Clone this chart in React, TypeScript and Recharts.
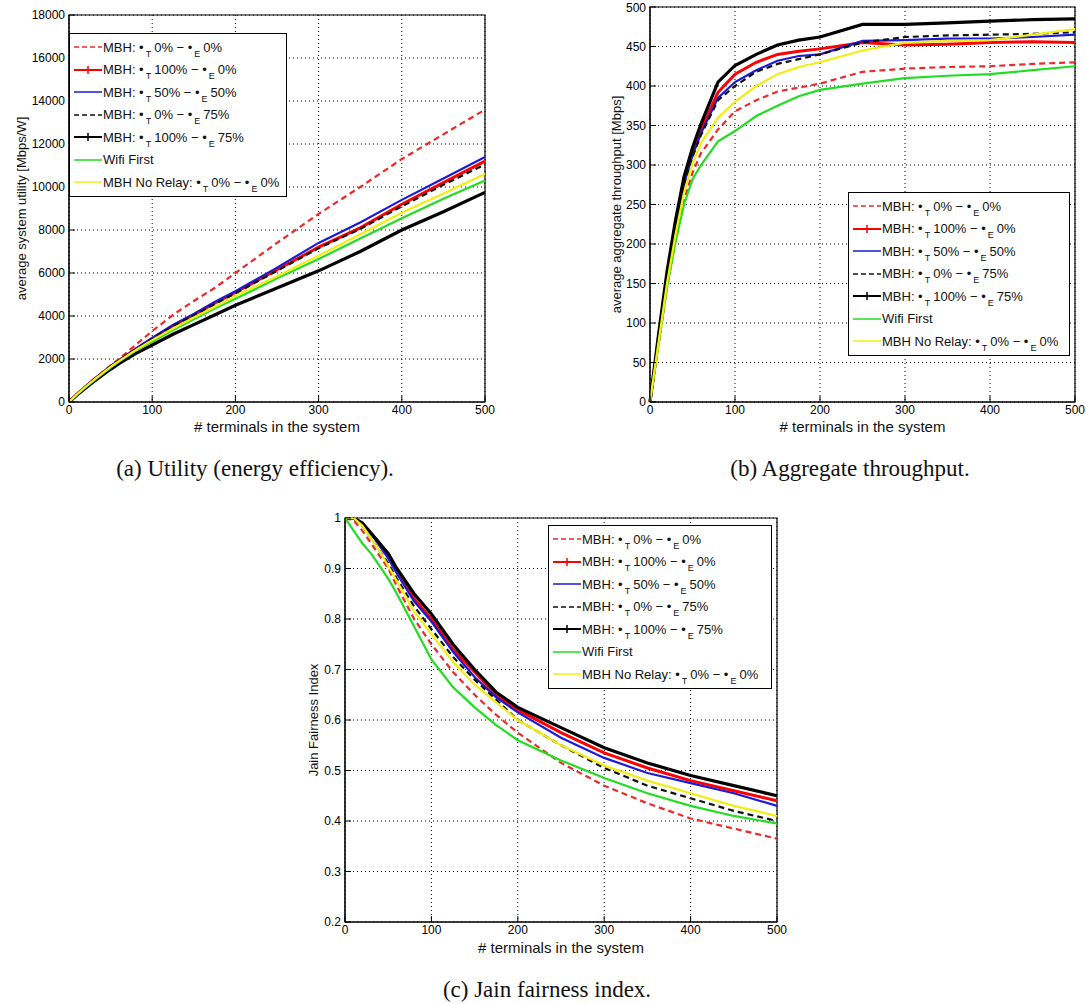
import React from "react";
import {
  CartesianGrid,
  Legend,
  Line,
  LineChart,
  ReferenceArea,
  XAxis,
  YAxis,
} from "recharts";

// x positions shared by all three panels (# terminals)
const TERMINALS = [0, 10, 20, 30, 40, 50, 60, 80, 100, 125, 150, 175, 200, 250, 300, 350, 400, 450, 500];
const X_TICKS = [0, 100, 200, 300, 400, 500];

// (a) average system utility [Mbps/W]
const utilRedDash = [0, 380, 720, 1060, 1380, 1700, 2000, 2650, 3300, 4050, 4700, 5300, 6000, 7400, 8750, 10000, 11300, 12450, 13600];
const utilRedSolid = [0, 380, 720, 1050, 1350, 1650, 1930, 2450, 2950, 3550, 4050, 4600, 5100, 6150, 7200, 8100, 9200, 10200, 11200];
const utilBlue = [0, 380, 720, 1050, 1360, 1660, 1940, 2470, 2980, 3580, 4100, 4650, 5150, 6250, 7400, 8350, 9400, 10400, 11400];
const utilBlackDash = [0, 380, 720, 1050, 1350, 1650, 1920, 2440, 2930, 3520, 4020, 4550, 5050, 6100, 7150, 8050, 9100, 10100, 11050];
const utilBlackSolid = [0, 340, 650, 950, 1240, 1520, 1780, 2250, 2650, 3150, 3600, 4050, 4500, 5300, 6100, 7000, 8000, 8850, 9750];
const utilGreen = [0, 360, 690, 1010, 1310, 1600, 1880, 2380, 2800, 3350, 3850, 4350, 4800, 5750, 6650, 7600, 8550, 9450, 10300];
const utilYellow = [0, 370, 710, 1030, 1330, 1630, 1900, 2410, 2880, 3420, 3930, 4420, 4920, 5850, 6800, 7800, 8800, 9700, 10600];
const UTIL_TICKS = [0, 2000, 4000, 6000, 8000, 10000, 12000, 14000, 16000, 18000];

// (b) average aggregate throughput [Mbps]
const thrBlackSolid = [0, 85, 165, 230, 285, 322, 352, 405, 426, 440, 452, 458, 462, 478, 478, 480, 482, 484, 485];
const thrRedSolid = [0, 80, 158, 222, 278, 315, 345, 392, 415, 430, 440, 444, 447, 455, 452, 453, 455, 456, 455];
const thrBlue = [0, 80, 158, 222, 276, 312, 340, 385, 405, 420, 432, 438, 440, 457, 458, 460, 460, 462, 465];
const thrBlackDash = [0, 80, 158, 220, 274, 310, 338, 382, 400, 418, 428, 434, 440, 455, 462, 464, 465, 466, 468];
const thrYellow = [0, 75, 150, 212, 265, 302, 328, 360, 380, 400, 415, 424, 430, 445, 455, 457, 458, 465, 472];
const thrRedDash = [0, 72, 145, 205, 255, 290, 315, 345, 368, 382, 393, 398, 403, 418, 422, 424, 425, 428, 430];
const thrGreen = [0, 72, 145, 203, 250, 282, 300, 330, 343, 362, 375, 387, 395, 403, 410, 413, 415, 420, 425];
const THR_TICKS = [0, 50, 100, 150, 200, 250, 300, 350, 400, 450, 500];

// (c) Jain fairness index
const jainBlackSolid = [1.0, 1.0, 0.99, 0.97, 0.95, 0.93, 0.9, 0.85, 0.81, 0.75, 0.7, 0.655, 0.625, 0.585, 0.545, 0.515, 0.49, 0.47, 0.45];
const jainRedSolid = [1.0, 1.0, 0.99, 0.97, 0.95, 0.925, 0.895, 0.84, 0.8, 0.74, 0.695, 0.65, 0.62, 0.575, 0.535, 0.505, 0.48, 0.46, 0.44];
const jainBlue = [1.0, 1.0, 0.99, 0.97, 0.945, 0.92, 0.89, 0.835, 0.795, 0.735, 0.685, 0.645, 0.615, 0.565, 0.525, 0.495, 0.475, 0.455, 0.43];
const jainBlackDash = [1.0, 1.0, 0.985, 0.96, 0.935, 0.91, 0.88, 0.825, 0.78, 0.725, 0.68, 0.64, 0.6, 0.55, 0.505, 0.47, 0.445, 0.42, 0.4];
const jainYellow = [1.0, 1.0, 0.985, 0.96, 0.935, 0.905, 0.875, 0.815, 0.77, 0.715, 0.67, 0.635, 0.6, 0.55, 0.51, 0.48, 0.455, 0.43, 0.41];
const jainRedDash = [1.0, 0.995, 0.975, 0.95, 0.925, 0.9, 0.865, 0.8, 0.75, 0.695, 0.65, 0.61, 0.575, 0.515, 0.47, 0.435, 0.405, 0.385, 0.365];
const jainGreen = [1.0, 0.975, 0.95, 0.93, 0.905, 0.88, 0.85, 0.785, 0.72, 0.665, 0.625, 0.59, 0.56, 0.52, 0.485, 0.455, 0.43, 0.41, 0.395];
const JAIN_TICKS = [0.2, 0.3, 0.4, 0.5, 0.6, 0.7, 0.8, 0.9, 1];

type Series = {
  key: string;
  prefix: string;
  rhoT?: string;
  rhoE?: string;
  color: string;
  width: number;
  dash?: string;
  plus?: boolean;
};

const SERIES: Series[] = [
  { key: "redDash", prefix: "MBH", rhoT: "0%", rhoE: "0%", color: "#f02828", width: 2.2, dash: "6 4" },
  { key: "redSolid", prefix: "MBH", rhoT: "100%", rhoE: "0%", color: "#ff0000", width: 3, plus: true },
  { key: "blue", prefix: "MBH", rhoT: "50%", rhoE: "50%", color: "#1a1ad8", width: 2.2 },
  { key: "blackDash", prefix: "MBH", rhoT: "0%", rhoE: "75%", color: "#111", width: 2.2, dash: "6 4" },
  { key: "blackSolid", prefix: "MBH", rhoT: "100%", rhoE: "75%", color: "#000", width: 3.2, plus: true },
  { key: "green", prefix: "Wifi First", color: "#22dd22", width: 2.2 },
  { key: "yellow", prefix: "MBH No Relay", rhoT: "0%", rhoE: "0%", color: "#f2ee10", width: 2.2 },
];

function buildRows(cols: Record<string, number[]>) {
  return TERMINALS.map((t, i) => {
    const row: Record<string, number> = { t };
    Object.keys(cols).forEach((k) => {
      row[k] = cols[k][i];
    });
    return row;
  });
}

const utilData = buildRows({
  redDash: utilRedDash,
  redSolid: utilRedSolid,
  blue: utilBlue,
  blackDash: utilBlackDash,
  blackSolid: utilBlackSolid,
  green: utilGreen,
  yellow: utilYellow,
});
const thrData = buildRows({
  redDash: thrRedDash,
  redSolid: thrRedSolid,
  blue: thrBlue,
  blackDash: thrBlackDash,
  blackSolid: thrBlackSolid,
  green: thrGreen,
  yellow: thrYellow,
});
const jainData = buildRows({
  redDash: jainRedDash,
  redSolid: jainRedSolid,
  blue: jainBlue,
  blackDash: jainBlackDash,
  blackSolid: jainBlackSolid,
  green: jainGreen,
  yellow: jainYellow,
});

const FONT = "'Liberation Sans', Arial, sans-serif";
const tickStyle = { fontSize: 12, fill: "#000", fontFamily: FONT };

const Sub = ({ c }: { c: string }) => (
  <span style={{ fontSize: 9, position: "relative", top: 5, margin: "0 3px 0 2px" }}>{c}</span>
);

function LegendBox({ width }: { width: number }) {
  return (
    <div
      style={{
        width,
        boxSizing: "border-box",
        border: "1.5px solid #000",
        background: "#fff",
        padding: "2px 4px",
        fontFamily: FONT,
        fontSize: 13,
        color: "#111",
      }}
    >
      {SERIES.map((s) => (
        <div key={s.key} style={{ display: "flex", alignItems: "center", height: 22.5, whiteSpace: "nowrap" }}>
          <svg width={28} height={10} style={{ flex: "none" }}>
            <line x1={0} y1={5} x2={28} y2={5} stroke={s.color} strokeWidth={s.width > 2.5 ? 2 : 1.5} strokeDasharray={s.dash ? "5 3" : undefined} />
            {s.plus && <path d="M14 1V9M10 5H18" stroke={s.color} strokeWidth={1.5} />}
          </svg>
          <span style={{ marginLeft: 1 }}>
            {s.prefix}
            {s.rhoT ? (
              <>
                : •<Sub c="T" />{s.rhoT} − •<Sub c="E" />{s.rhoE}
              </>
            ) : null}
          </span>
        </div>
      ))}
    </div>
  );
}

type PanelProps = {
  data: Record<string, number>[];
  width: number;
  height: number;
  margin: { top: number; right: number; bottom: number; left: number };
  yDomain: [number, number];
  yTicks: number[];
  yLabel: string;
  yLabelOffset: number;
  xLabelOffset: number;
  legendLeft: number;
  legendTop: number;
  legendWidth: number;
};

const noTick = () => <g />;

function Panel(p: PanelProps) {
  return (
    <LineChart width={p.width} height={p.height} data={p.data} margin={p.margin}>
      <CartesianGrid stroke="#000" strokeDasharray="1 3" strokeWidth={1} />
      <XAxis
        dataKey="t"
        type="number"
        domain={[0, 500]}
        ticks={X_TICKS}
        tick={tickStyle}
        tickLine={{ stroke: "#000" }}
        tickSize={-6}
        tickMargin={9}
        axisLine={{ stroke: "#000" }}
        height={30}
        label={{
          value: "# terminals in the system",
          position: "insideBottom",
          offset: p.xLabelOffset,
          style: { fontSize: 15, fill: "#111", fontFamily: FONT },
        }}
      />
      <XAxis
        xAxisId="top"
        orientation="top"
        dataKey="t"
        type="number"
        domain={[0, 500]}
        ticks={X_TICKS}
        tick={noTick}
        tickLine={{ stroke: "#000" }}
        tickSize={-6}
        axisLine={{ stroke: "#000" }}
        height={0}
      />
      <YAxis
        type="number"
        domain={p.yDomain}
        ticks={p.yTicks}
        tick={tickStyle}
        tickLine={{ stroke: "#000" }}
        tickSize={-6}
        tickMargin={10}
        axisLine={{ stroke: "#000" }}
        width={50}
        allowDataOverflow
        label={{
          value: p.yLabel,
          angle: -90,
          position: "insideLeft",
          offset: p.yLabelOffset,
          style: { textAnchor: "middle", fontSize: 13, fill: "#111", fontFamily: FONT },
        }}
      />
      <YAxis
        yAxisId="right"
        orientation="right"
        type="number"
        domain={p.yDomain}
        ticks={p.yTicks}
        tick={noTick}
        tickLine={{ stroke: "#000" }}
        tickSize={-6}
        axisLine={{ stroke: "#000" }}
        width={0}
        allowDataOverflow
      />
      <ReferenceArea x1={0} x2={500} y1={p.yDomain[0]} y2={p.yDomain[1]} fill="none" fillOpacity={0} stroke="#000" strokeWidth={1.2} />
      {SERIES.map((s) => (
        <Line
          key={s.key}
          type="linear"
          dataKey={s.key}
          stroke={s.color}
          strokeWidth={s.width}
          strokeDasharray={s.dash}
          dot={false}
          isAnimationActive={false}
        />
      ))}
      <Legend
        layout="vertical"
        align="center"
        verticalAlign="middle"
        wrapperStyle={{ left: p.legendLeft, top: p.legendTop, width: p.legendWidth }}
        content={() => <LegendBox width={p.legendWidth} />}
      />
    </LineChart>
  );
}

const captionStyle: React.CSSProperties = {
  position: "absolute",
  fontFamily: "'Liberation Serif', 'Times New Roman', serif",
  fontSize: 23,
  lineHeight: "28px",
  color: "#111",
  textAlign: "center",
  width: 400,
};

export default function App() {
  return (
    <div style={{ position: "absolute", left: 0, top: 0, width: 1086, height: 1004, background: "#fff" }}>
      <div style={{ position: "absolute", left: 0, top: 0 }}>
        <Panel
          data={utilData}
          width={500}
          height={440}
          margin={{ top: 15, right: 15, bottom: 8, left: 19 }}
          yDomain={[0, 18000]}
          yTicks={UTIL_TICKS}
          yLabel="average system utility [Mbps/W]"
          yLabelOffset={2}
          xLabelOffset={0}
          legendLeft={69}
          legendTop={33}
          legendWidth={218}
        />
      </div>
      <div style={{ position: "absolute", left: 590, top: 0 }}>
        <Panel
          data={thrData}
          width={496}
          height={440}
          margin={{ top: 7, right: 11, bottom: 8, left: 10 }}
          yDomain={[0, 500]}
          yTicks={THR_TICKS}
          yLabel="average aggregate throughput [Mbps]"
          yLabelOffset={16}
          xLabelOffset={0}
          legendLeft={258}
          legendTop={192}
          legendWidth={222}
        />
      </div>
      <div style={{ position: "absolute", left: 290, top: 500 }}>
        <Panel
          data={jainData}
          width={500}
          height={460}
          margin={{ top: 18, right: 13, bottom: 8, left: 5 }}
          yDomain={[0.2, 1]}
          yTicks={JAIN_TICKS}
          yLabel="Jain Fairness Index"
          yLabelOffset={18}
          xLabelOffset={-1}
          legendLeft={258}
          legendTop={25}
          legendWidth={224}
        />
      </div>
      <div style={{ ...captionStyle, left: 55, top: 455 }}>(a) Utility (energy efficiency).</div>
      <div style={{ ...captionStyle, left: 650, top: 455 }}>(b) Aggregate throughput.</div>
      <div style={{ ...captionStyle, left: 347, top: 976 }}>(c) Jain fairness index.</div>
    </div>
  );
}
